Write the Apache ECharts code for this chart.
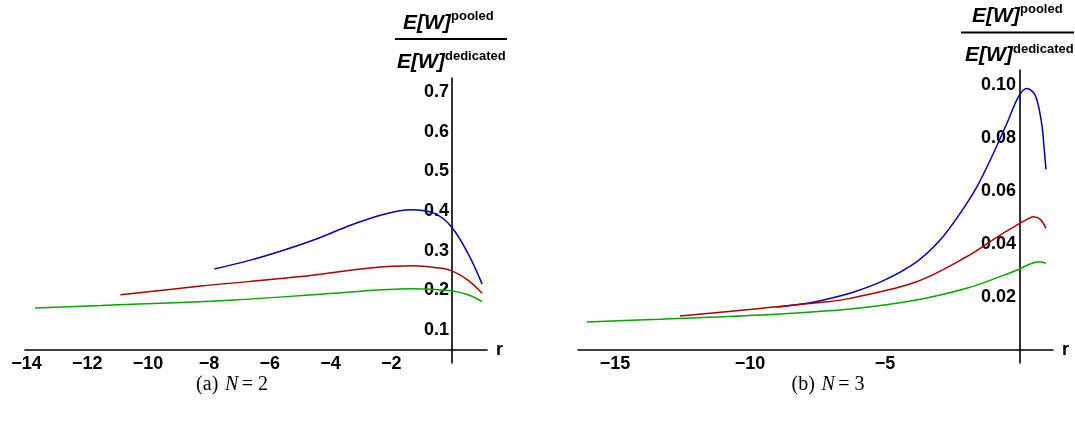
<!DOCTYPE html>
<html>
<head>
<meta charset="utf-8">
<script src="https://cdn.jsdelivr.net/npm/echarts@6/dist/echarts.min.js"></script>
<style>html,body{margin:0;padding:0;background:#fff}#c{width:1075px;height:421px}</style>
</head>
<body>
<div id="c"></div>
<script>
// ---- Panel (a) N = 2 ----
const rBlueA  = [-7.82, -6.61, -5.52, -4.42, -3.32, -2.23, -1.35, -0.58, -0.03, 0.52, 0.99];
const vBlueA  = [0.254, 0.277, 0.302, 0.331, 0.365, 0.392, 0.403, 0.394, 0.361, 0.294, 0.216];
const rRedA   = [-10.91, -8.26, -4.97, -2.77, -1.24, -0.58, -0.03, 0.52, 0.99];
const vRedA   = [0.189, 0.211, 0.235, 0.256, 0.262, 0.258, 0.250, 0.226, 0.193];
const rGreenA = [-13.72, -11.55, -7.16, -3.87, -1.35, -0.03, 0.52, 0.99];
const vGreenA = [0.156, 0.162, 0.176, 0.193, 0.204, 0.199, 0.189, 0.172];
const xTicksA = [-14, -12, -10, -8, -6, -4, -2];
const yTicksA = [0.1, 0.2, 0.3, 0.4, 0.5, 0.6, 0.7];

// ---- Panel (b) N = 3 ----
const rBlueB  = [-9.01, -8.0, -7.16, -6.30, -5.06, -3.83, -2.96, -2.22, -1.60, -0.99, -0.49, -0.06, 0.25, 0.56, 0.80, 0.88, 0.96];
const vBlueB  = [0.0162, 0.0175, 0.0192, 0.0214, 0.0262, 0.0333, 0.0415, 0.0516, 0.0616, 0.0742, 0.0855, 0.0956, 0.0987, 0.0962, 0.0855, 0.0775, 0.0682];
const rRedB   = [-12.59, -9.63, -7.16, -6.30, -3.83, -1.98, -0.74, -0.06, 0.25, 0.49, 0.74, 0.96];
const vRedB   = [0.0128, 0.0157, 0.0182, 0.0195, 0.0258, 0.0352, 0.0434, 0.0475, 0.0493, 0.0503, 0.0494, 0.0459];
const rGreenB = [-16.04, -13.33, -9.63, -6.30, -3.83, -1.98, -0.74, -0.06, 0.37, 0.74, 0.96];
const vGreenB = [0.0106, 0.0116, 0.0132, 0.0155, 0.0189, 0.0233, 0.0277, 0.0304, 0.0325, 0.0333, 0.0327];
const xTicksB = [-15, -10, -5];
const yTicksB = [0.02, 0.04, 0.06, 0.08, 0.10];

// axis ranges (the axes cross at r = 0 and at the x-axis baseline value)
const xRangeA = [-14.05, 1.15], yRangeA = [0.0173, 0.735], yBaseA = 0.05;
const xRangeB = [-16.37, 1.22], yRangeB = [-0.0049, 0.1057], yBaseB = 0;

const BLUE = '#0000b4', RED = '#b00000', GREEN = '#00a800';
const zip = (a, b) => a.map((x, i) => [x, b[i]]);
const minus = s => String(s).replace('-', '\u2212');
const labelFont = {fontFamily: 'Liberation Sans, Arial, sans-serif', fontWeight: 'bold', fontSize: 18, color: '#000'};
const axisLine = {onZero: false, lineStyle: {color: '#000', width: 1.6}};

const W = 1075, H = 421;
const gridA = {left: 25, width: 462, top: 78, bottom: 58};
const gridB = {left: 578, width: 475, top: 70, bottom: 58};
const hA = H - gridA.top - gridA.bottom, hB = H - gridB.top - gridB.bottom;
// offsets that move each axis line onto the other axis's crossing value
const offYA = -(0 - xRangeA[0]) / (xRangeA[1] - xRangeA[0]) * gridA.width;
const offYB = -(0 - xRangeB[0]) / (xRangeB[1] - xRangeB[0]) * gridB.width;
const offXA = -(yBaseA - yRangeA[0]) / (yRangeA[1] - yRangeA[0]) * hA;
const offXB = -(yBaseB - yRangeB[0]) / (yRangeB[1] - yRangeB[0]) * hB;

function mkLine(name, data, color, xi) {
  return {type: 'line', name, data, xAxisIndex: xi, yAxisIndex: xi, showSymbol: false, smooth: 0.35,
    lineStyle: {color, width: 1.5}, itemStyle: {color}, silent: true, z: 3};
}

const fracFont = 'Liberation Sans, Arial, sans-serif';
function frac(x0, x1, yNum, yLine, yDen, xNum, xDen) {
  return [
    {type: 'text', style: {text: 'E[W]', x: xNum, y: yNum, textVerticalAlign: 'middle', font: 'italic bold 21px ' + fracFont, fill: '#000'}},
    {type: 'text', style: {text: 'pooled', x: xNum + 48, y: yNum - 7, textVerticalAlign: 'middle', font: 'bold 13px ' + fracFont, fill: '#000'}},
    {type: 'line', shape: {x1: x0, y1: yLine, x2: x1, y2: yLine}, style: {stroke: '#000', lineWidth: 2}},
    {type: 'text', style: {text: 'E[W]', x: xDen, y: yDen, textVerticalAlign: 'middle', font: 'italic bold 21px ' + fracFont, fill: '#000'}},
    {type: 'text', style: {text: 'dedicated', x: xDen + 48, y: yDen - 6, textVerticalAlign: 'middle', font: 'bold 13px ' + fracFont, fill: '#000'}}
  ];
}

const capRich = {
  r: {fontFamily: 'Liberation Serif, serif', fontSize: 20, color: '#222'},
  i: {fontFamily: 'Liberation Serif, serif', fontSize: 20, fontStyle: 'italic', color: '#222'}
};

function xAxisCfg(gi, range, ticks, off) {
  return {type: 'value', gridIndex: gi, min: range[0], max: range[1], offset: off, position: 'bottom',
    axisLine, axisTick: {show: false}, splitLine: {show: false},
    axisLabel: Object.assign({customValues: ticks, margin: 5, formatter: v => minus(v)}, labelFont),
    name: 'r', nameLocation: 'end', nameGap: 9, nameTextStyle: labelFont};
}
function yAxisCfg(gi, range, ticks, off, dec, margin) {
  return {type: 'value', gridIndex: gi, min: range[0], max: range[1], offset: off, position: 'left',
    axisLine, axisTick: {show: false}, splitLine: {show: false},
    axisLabel: Object.assign({customValues: ticks, margin, formatter: v => v.toFixed(dec)}, labelFont)};
}

const option = {
  animation: false,
  backgroundColor: '#fff',
  grid: [gridA, gridB],
  xAxis: [xAxisCfg(0, xRangeA, xTicksA, offXA), xAxisCfg(1, xRangeB, xTicksB, offXB)],
  yAxis: [yAxisCfg(0, yRangeA, yTicksA, offYA, 1, 3), yAxisCfg(1, yRangeB, yTicksB, offYB, 2, 4)],
  graphic: [].concat(
    frac(395, 507, 23, 39, 62, 403, 397),
    frac(961, 1074, 16.5, 32.5, 55.5, 972, 965),
    [
      {type: 'text', style: {text: '{r|(a)}  {i|N} {r|= 2}', rich: capRich, x: 232, y: 385, textAlign: 'center', textVerticalAlign: 'middle'}},
      {type: 'text', style: {text: '{r|(b)}  {i|N} {r|= 3}', rich: capRich, x: 828, y: 385, textAlign: 'center', textVerticalAlign: 'middle'}}
    ]
  ),
  series: [
    mkLine('blueA', zip(rBlueA, vBlueA), BLUE, 0),
    mkLine('redA', zip(rRedA, vRedA), RED, 0),
    mkLine('greenA', zip(rGreenA, vGreenA), GREEN, 0),
    mkLine('blueB', zip(rBlueB, vBlueB), BLUE, 1),
    mkLine('redB', zip(rRedB, vRedB), RED, 1),
    mkLine('greenB', zip(rGreenB, vGreenB), GREEN, 1)
  ]
};
const chart = echarts.init(document.getElementById('c'), null, {renderer: 'canvas'});
chart.setOption(option);
</script>
</body>
</html>
